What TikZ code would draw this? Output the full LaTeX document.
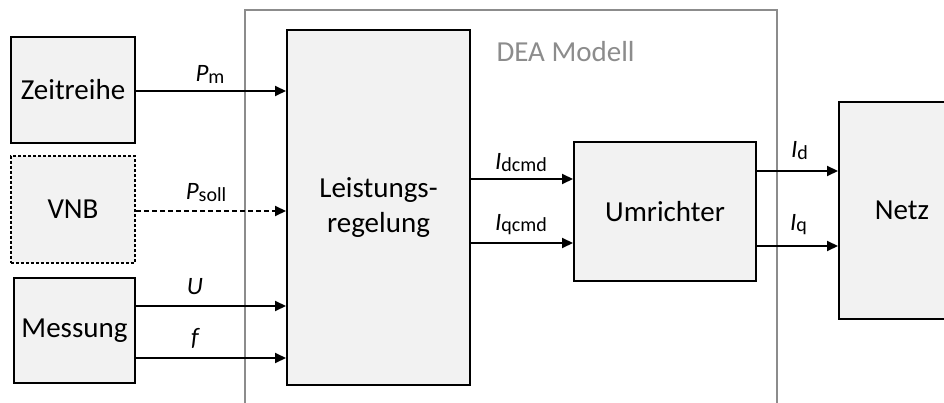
\documentclass[tikz,border=0pt]{standalone}
\usepackage{fontspec}
\setmainfont{Carlito}
\usetikzlibrary{arrows.meta,calc}
\definecolor{boxfill}{HTML}{F2F2F2}
\definecolor{framegray}{HTML}{8C8C8C}
\newcommand\lbl[2]{{\fontsize{25}{25}\selectfont\itshape #1}\raisebox{-0.12em}{\fontsize{20}{20}\selectfont #2}}
\tikzset{
  blk/.style={draw=black, line width=2pt, fill=boxfill, inner sep=0pt, align=center,
    font=\fontsize{29}{35}\selectfont},
  arr/.style={line width=2pt, -{Triangle[length=11pt,width=10pt]}},
  lab/.style={midway, anchor=base, inner sep=0pt},
}
\begin{document}
\begin{tikzpicture}[x=1pt,y=-1pt]
\useasboundingbox (0,0) rectangle (944,403);
\begin{scope}
\clip (0,0) rectangle (944,403);
% DEA frame
\draw[framegray, line width=1.4pt] (245,410) -- (245,10) -- (777,10) -- (777,410);
\node[text=framegray, font=\fontsize{29}{29}\selectfont, anchor=base west] (dea) at (493,62) {DEA Modell};
% blocks
\node[blk, minimum width=124pt, minimum height=106pt] (zeit) at (73,90) {Zeitreihe};
\node[blk, dash pattern=on 3pt off 2pt, minimum width=124pt, minimum height=107pt] (vnb) at (73,209.5) {VNB};
\node[blk, minimum width=121pt, minimum height=105pt] (mess) at (74.5,330.5) {Messung};
\node[blk, minimum width=183pt, minimum height=355pt] (leist) at (378.5,207.5) {Leistungs-\\regelung};
\node[blk, minimum width=182pt, minimum height=139pt] (umr) at (665,211.5) {Umrichter};
\node[blk, minimum width=126pt, minimum height=217pt] (netz) at (902,210.5) {Netz};
% arrow rows
\coordinate (ypm) at (0,91);
\coordinate (yps) at (0,211);
\coordinate (yu) at (0,306);
\coordinate (yf) at (0,358);
\coordinate (yid) at (0,179);
\coordinate (yiq) at (0,243);
\coordinate (yod) at (0,171);
\coordinate (yoq) at (0,246);
\draw[arr] (zeit.east |- ypm) -- node[lab, xshift=-1pt, yshift=9pt] {\lbl{P}{m}} (leist.west |- ypm);
\draw[arr, dash pattern=on 5pt off 3pt] (vnb.east |- yps) -- node[lab, xshift=-5pt, yshift=11pt] {\lbl{P}{soll}} (leist.west |- yps);
\draw[arr] (mess.east |- yu) -- node[lab, xshift=-16pt, yshift=12pt] {\lbl{U}{}} (leist.west |- yu);
\draw[arr] (mess.east |- yf) -- node[lab, xshift=-16pt, yshift=13pt] {\lbl{f}{}} (leist.west |- yf);
\draw[arr] (leist.east |- yid) -- node[lab, xshift=-1pt, yshift=9pt] {\lbl{I}{dcmd}} (umr.west |- yid);
\draw[arr] (leist.east |- yiq) -- node[lab, xshift=-1pt, yshift=13pt] {\lbl{I}{qcmd}} (umr.west |- yiq);
\draw[arr] (umr.east |- yod) -- node[lab, xshift=2pt, yshift=13pt] {\lbl{I}{d}} (netz.west |- yod);
\draw[arr] (umr.east |- yoq) -- node[lab, xshift=1pt, yshift=16pt] {\lbl{I}{q}} (netz.west |- yoq);
\end{scope}
\end{tikzpicture}
\end{document}
